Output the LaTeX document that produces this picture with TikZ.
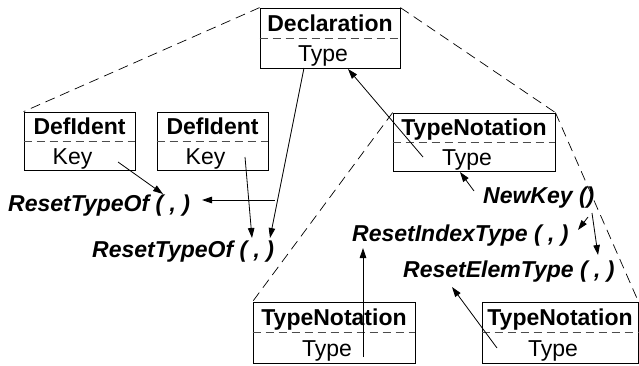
\documentclass[tikz,border=0pt]{standalone}
\usepackage{fontspec}
\setmainfont{Liberation Sans}
\usetikzlibrary{arrows.meta,calc}

\tikzset{
  classframe/.style={draw, line width=0.8pt, inner sep=0pt},
  divider/.style={draw=black!70, line width=0.8pt, dash pattern=on 8pt off 5pt},
  titletext/.style={inner sep=0pt, font=\fontsize{23}{27}\selectfont\bfseries},
  fieldtext/.style={inner sep=0pt, font=\fontsize{23}{27}\selectfont},
  calltext/.style={inner sep=0pt, anchor=base west, font=\fontsize{23}{27}\selectfont\bfseries\itshape},
  flow/.style={line width=0.8pt, -{Triangle[length=10pt,width=6.5pt]}},
  scopeline/.style={line width=0.7pt, dash pattern=on 10pt off 6pt},
}

% class box: name, centre x, centre y, width, height, title, field
\newcommand\classbox[7]{%
  \node[classframe, minimum width=#4pt, minimum height=#5pt] (#1) at (#2,#3) {};
  \draw[divider] (#1.west) -- (#1.east);
  \node[titletext, anchor=base] (#1-t) at ($(#1.north)!0.25!(#1.south)+(0,8.5)$) {#6};
  \node[fieldtext, anchor=base] (#1-f) at ($(#1.north)!0.75!(#1.south)+(-7,8.5)$) {#7};
}

\begin{document}
\begin{tikzpicture}[x=1pt,y=-1pt]
\useasboundingbox (0,0) rectangle (639,365);

% classes
\classbox{decl}{330}{38}{140}{60}{Declaration}{Type}
\classbox{defa}{79.5}{141}{111}{58}{DefIdent}{Key}
\classbox{defb}{212.5}{141}{111}{58}{DefIdent}{Key}
\classbox{tna}{474}{142}{162}{58}{TypeNotation}{Type}
\classbox{tnb}{334}{332.5}{162}{61}{TypeNotation}{Type}
\classbox{tnc}{560}{332.5}{156}{61}{TypeNotation}{Type}

% operation calls
\node[calltext] (rta) at (8,211) {ResetTypeOf ( , )};
\node[calltext] (rtb) at (92,257) {ResetTypeOf ( , )};
\node[calltext] (nk) at (483,203) {NewKey ()};
\node[calltext] (rit) at (352,241) {ResetIndexType ( , )};
\node[calltext] (ret) at (403,277) {ResetElemType ( , )};

% scope outlines
\draw[scopeline] (decl.north west) -- (defa.north west);
\draw[scopeline] (decl.north east) -- (tna.north east);
\draw[scopeline] (tna.north west) -- (tnb.north west);
\draw[scopeline] (tna.north east) -- (tnc.north east);

% connector end points
\coordinate (keya) at (118,162);
\coordinate (rtaopen) at (163,194);
\coordinate (branch) at (275,200);
\coordinate (rtaclose) at (202,200);
\coordinate (keyb) at (245,157);
\coordinate (rtbopen) at (252,238);
\coordinate (decltype) at (304,68);
\coordinate (rtbclose) at (270,238);
\coordinate (tnatype) at (423,157);
\coordinate (decltypein) at (348,69);
\coordinate (nkleft) at (474,191);
\coordinate (tnabottom) at (460,172);
\coordinate (nkright) at (588,217);
\coordinate (ritclose) at (578,230);
\coordinate (nkdown) at (592,213);
\coordinate (retclose) at (598,255);
\coordinate (tnbtype) at (363,357);
\coordinate (ritfoot) at (363,248);
\coordinate (tnctype) at (497,348);
\coordinate (retfoot) at (452,287);

% data flow
\draw[flow] (keya) -- (rtaopen);
\draw[flow] (branch) -- (rtaclose);
\draw[flow] (keyb) -- (rtbopen);
\draw[flow] (decltype) -- (rtbclose);
\draw[flow] (tnatype) -- (decltypein);
\draw[flow] (nkleft) -- (tnabottom);
\draw[flow] (nkright) -- (ritclose);
\draw[flow] (nkdown) -- (retclose);
\draw[flow] (tnbtype) -- (ritfoot);
\draw[flow] (tnctype) -- (retfoot);
\end{tikzpicture}
\end{document}
